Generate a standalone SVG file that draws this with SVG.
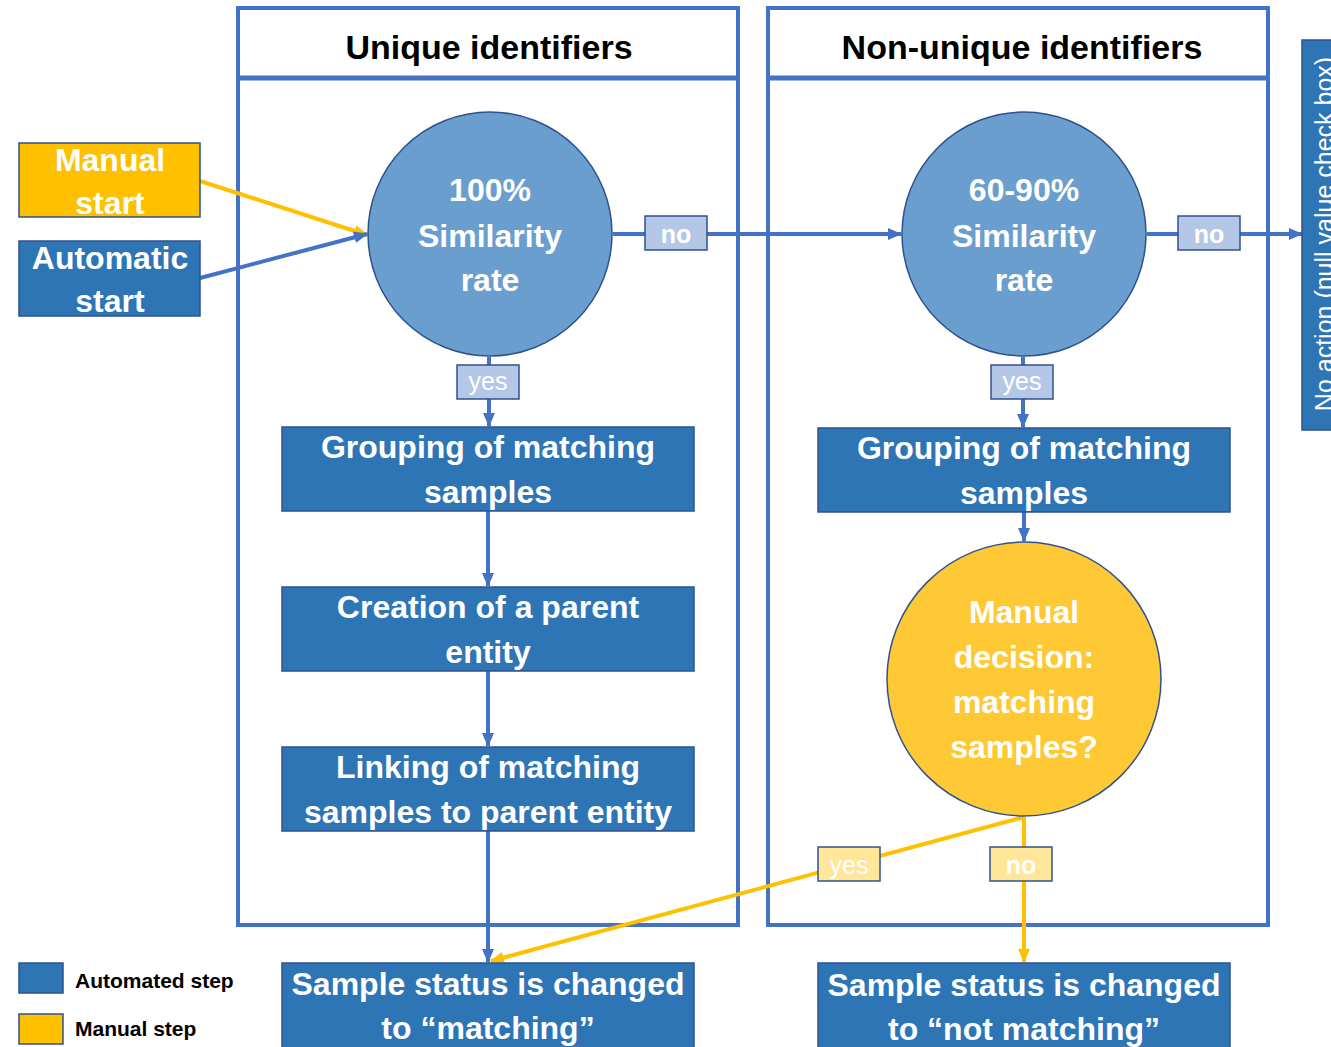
<svg xmlns="http://www.w3.org/2000/svg" width="1331" height="1047" viewBox="0 0 1331 1047">
  <style>
    text { font-family: "Liberation Sans", Arial, sans-serif; }
    .lane { fill: #ffffff; stroke: #4472C4; stroke-width: 4; }
    .lane-sep { stroke: #4472C4; stroke-width: 5; }
    .title { font-size: 34px; font-weight: bold; fill: #000000; text-anchor: middle; }
    .box { fill: #2E75B6; stroke: #2F528F; stroke-width: 1.5; }
    .manual { fill: #FFC000; stroke: #2F528F; stroke-width: 1.5; }
    .circ-blue { fill: #6A9ECE; stroke: #2F528F; stroke-width: 1.5; }
    .circ-gold { fill: #FFC935; stroke: #2F528F; stroke-width: 1.5; }
    .lbl { fill: #ffffff; font-size: 32px; font-weight: bold; text-anchor: middle; }
    .wire-b { fill: none; stroke: #4472C4; stroke-width: 4; }
    .wire-y { fill: none; stroke: #FFC000; stroke-width: 4; }
    .tag-b { fill: #B4C7E7; stroke: #2F528F; stroke-width: 1.5; }
    .tag-y { fill: #FFE699; stroke: #2F528F; stroke-width: 1.5; }
    .tag-text { fill: #ffffff; font-size: 25px; text-anchor: middle; }
    .legend { fill: #000000; font-size: 21px; font-weight: bold; }
  </style>
  <defs>
    <marker id="arrow-b" markerUnits="userSpaceOnUse" markerWidth="14" markerHeight="14" viewBox="0 0 14 14" refX="13" refY="7" orient="auto">
      <path d="M0,1 L14,7 L0,13 Z" fill="#4472C4"/>
    </marker>
    <marker id="arrow-y" markerUnits="userSpaceOnUse" markerWidth="14" markerHeight="14" viewBox="0 0 14 14" refX="13" refY="7" orient="auto">
      <path d="M0,1 L14,7 L0,13 Z" fill="#FFC000"/>
    </marker>
  </defs>

  <rect width="1331" height="1047" fill="#ffffff"/>

  <!-- swimlanes -->
  <g id="lane-unique">
    <rect class="lane" x="238" y="8" width="500" height="917"/>
    <line class="lane-sep" x1="238" y1="78" x2="738" y2="78"/>
    <text class="title" x="489" y="59">Unique identifiers</text>
  </g>
  <g id="lane-nonunique">
    <rect class="lane" x="768" y="8" width="500" height="917"/>
    <line class="lane-sep" x1="768" y1="78" x2="1268" y2="78"/>
    <text class="title" x="1022" y="59">Non-unique identifiers</text>
  </g>

  <!-- connectors -->
  <g id="connectors">
    <line class="wire-y" x1="200" y1="181" x2="367" y2="235" marker-end="url(#arrow-y)"/>
    <line class="wire-b" x1="200" y1="278" x2="367" y2="234" marker-end="url(#arrow-b)"/>
    <line class="wire-b" x1="613" y1="234" x2="901" y2="234" marker-end="url(#arrow-b)"/>
    <line class="wire-b" x1="1147" y1="234" x2="1302" y2="234" marker-end="url(#arrow-b)"/>
    <line class="wire-b" x1="489" y1="357" x2="489" y2="426" marker-end="url(#arrow-b)"/>
    <line class="wire-b" x1="488" y1="511" x2="488" y2="586" marker-end="url(#arrow-b)"/>
    <line class="wire-b" x1="488" y1="671" x2="488" y2="746" marker-end="url(#arrow-b)"/>
    <line class="wire-b" x1="488" y1="831" x2="488" y2="962" marker-end="url(#arrow-b)"/>
    <line class="wire-b" x1="1023" y1="357" x2="1023" y2="427" marker-end="url(#arrow-b)"/>
    <line class="wire-b" x1="1024" y1="512" x2="1024" y2="541" marker-end="url(#arrow-b)"/>
    <line class="wire-y" x1="1024" y1="817" x2="491" y2="961" marker-end="url(#arrow-y)"/>
    <line class="wire-y" x1="1024" y1="817" x2="1024" y2="962" marker-end="url(#arrow-y)"/>

    <rect class="tag-b" x="645" y="216" width="62" height="34"/>
    <text class="tag-text" x="676" y="243" font-weight="bold">no</text>
    <rect class="tag-b" x="1178" y="216" width="62" height="34"/>
    <text class="tag-text" x="1209" y="243" font-weight="bold">no</text>
    <rect class="tag-b" x="457" y="365" width="62" height="34"/>
    <text class="tag-text" x="488" y="390">yes</text>
    <rect class="tag-b" x="991" y="365" width="62" height="34"/>
    <text class="tag-text" x="1022" y="390">yes</text>
    <rect class="tag-y" x="818" y="847" width="62" height="34"/>
    <text class="tag-text" x="849" y="874">yes</text>
    <rect class="tag-y" x="990" y="847" width="62" height="34"/>
    <text class="tag-text" x="1021" y="874" font-weight="bold">no</text>
  </g>

  <!-- start nodes -->
  <g id="manual-start">
    <rect class="manual" x="19" y="143" width="181" height="74"/>
    <text class="lbl" x="110" y="171">Manual</text>
    <text class="lbl" x="110" y="214">start</text>
  </g>
  <g id="automatic-start">
    <rect class="box" x="19" y="241" width="181" height="75"/>
    <text class="lbl" x="110" y="269">Automatic</text>
    <text class="lbl" x="110" y="312">start</text>
  </g>

  <!-- unique identifiers lane -->
  <g id="similarity-100">
    <circle class="circ-blue" cx="490" cy="234" r="122"/>
    <text class="lbl" x="490" y="201">100%</text>
    <text class="lbl" x="490" y="247">Similarity</text>
    <text class="lbl" x="490" y="291">rate</text>
  </g>
  <g id="grouping-unique">
    <rect class="box" x="282" y="427" width="412" height="84"/>
    <text class="lbl" x="488" y="458">Grouping of matching</text>
    <text class="lbl" x="488" y="503">samples</text>
  </g>
  <g id="parent-entity">
    <rect class="box" x="282" y="587" width="412" height="84"/>
    <text class="lbl" x="488" y="618">Creation of a parent</text>
    <text class="lbl" x="488" y="663">entity</text>
  </g>
  <g id="linking">
    <rect class="box" x="282" y="747" width="412" height="84"/>
    <text class="lbl" x="488" y="778">Linking of matching</text>
    <text class="lbl" x="488" y="823">samples to parent entity</text>
  </g>
  <g id="status-matching">
    <rect class="box" x="282" y="963" width="412" height="90"/>
    <text class="lbl" x="488" y="995">Sample status is changed</text>
    <text class="lbl" x="488" y="1039">to “matching”</text>
  </g>

  <!-- non-unique identifiers lane -->
  <g id="similarity-60-90">
    <circle class="circ-blue" cx="1024" cy="234" r="122"/>
    <text class="lbl" x="1024" y="201">60-90%</text>
    <text class="lbl" x="1024" y="247">Similarity</text>
    <text class="lbl" x="1024" y="291">rate</text>
  </g>
  <g id="grouping-nonunique">
    <rect class="box" x="818" y="428" width="412" height="84"/>
    <text class="lbl" x="1024" y="459">Grouping of matching</text>
    <text class="lbl" x="1024" y="504">samples</text>
  </g>
  <g id="manual-decision">
    <circle class="circ-gold" cx="1024" cy="679" r="137"/>
    <text class="lbl" x="1024" y="623">Manual</text>
    <text class="lbl" x="1024" y="668">decision:</text>
    <text class="lbl" x="1024" y="713">matching</text>
    <text class="lbl" x="1024" y="758">samples?</text>
  </g>
  <g id="status-not-matching">
    <rect class="box" x="818" y="963" width="412" height="90"/>
    <text class="lbl" x="1024" y="996">Sample status is changed</text>
    <text class="lbl" x="1024" y="1040">to “not matching”</text>
  </g>

  <!-- no action: box runs past the right edge, as does its label -->
  <g id="no-action">
    <rect class="box" x="1302" y="40" width="40" height="390"/>
    <text x="0" y="0" transform="translate(1333,234) rotate(-90)" fill="#ffffff" font-size="25" text-anchor="middle">No action (null value check box)</text>
  </g>

  <!-- legend -->
  <g id="legend">
    <rect class="box" x="19" y="963" width="44" height="30"/>
    <text class="legend" x="75" y="988">Automated step</text>
    <rect class="manual" x="19" y="1014" width="44" height="30"/>
    <text class="legend" x="75" y="1036">Manual step</text>
  </g>
</svg>
